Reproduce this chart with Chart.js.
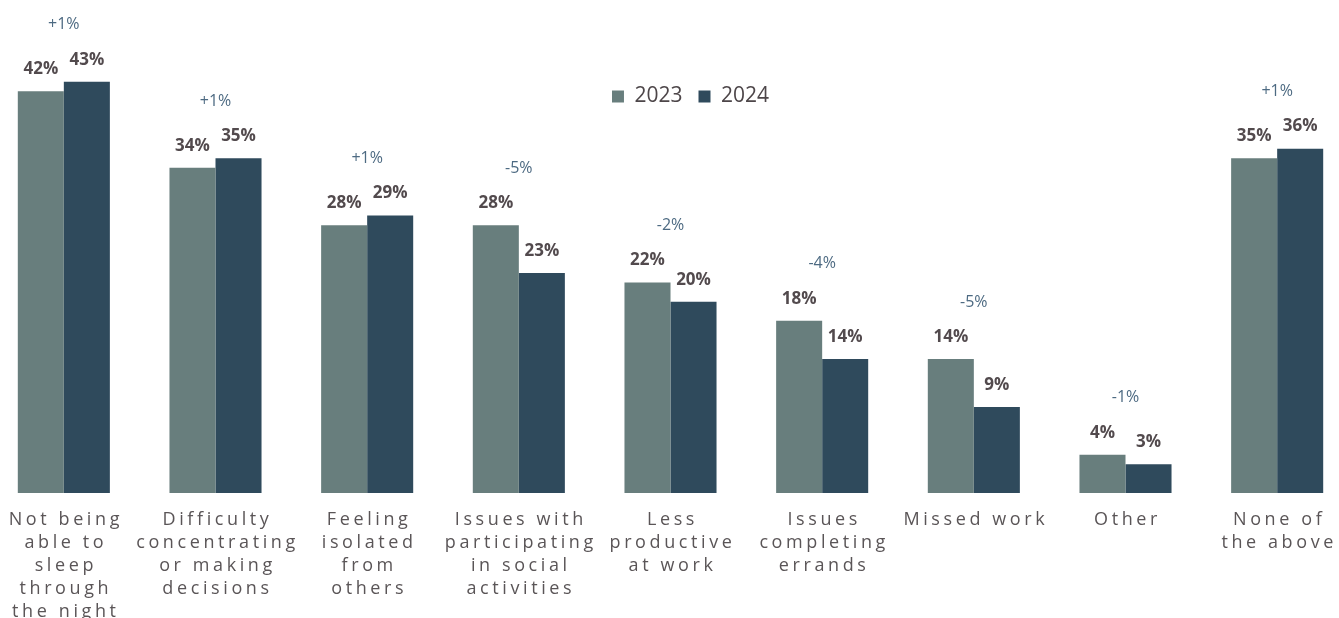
<!DOCTYPE html>
<html>
<head>
<meta charset="utf-8">
<script src="https://cdn.jsdelivr.net/npm/chart.js@4.4.1/dist/chart.umd.min.js"></script>
<style>
  html, body { margin: 0; padding: 0; background: #fff; overflow: hidden; }
  #wrap { position: absolute; left: -12px; top: 0; width: 1365px; height: 618px; }
</style>
</head>
<body>
<div id="wrap"><canvas id="chart"></canvas></div>
<script>
// Category labels, one array of lines per group
const categories = [
  ["Not being", "able to", "sleep", "through", "the night"],
  ["Difficulty", "concentrating", "or making", "decisions"],
  ["Feeling", "isolated", "from", "others"],
  ["Issues with", "participating", "in social", "activities"],
  ["Less", "productive", "at work"],
  ["Issues", "completing", "errands"],
  ["Missed work"],
  ["Other"],
  ["None of", "the above"]
];

// Share of respondents (%)
const values2023 = [42, 34, 28, 28, 22, 18, 14, 4, 35];
const values2024 = [43, 35, 29, 23, 20, 14, 9, 3, 36];

const color2023 = "#687e7d";
const color2024 = "#2f4a5c";

// Value labels over each bar, and the year-over-year change over each group
const labelsPlugin = {
  id: "barLabels",
  afterLayout(chart) {
    // move the legend down into the empty space between the bars
    chart.legend.left += 20;
    chart.legend.right += 20;
    chart.legend.top += 64;
    chart.legend.bottom += 64;
  },
  afterDatasetsDraw(chart) {
    const ctx = chart.ctx;
    const m0 = chart.getDatasetMeta(0);
    const m1 = chart.getDatasetMeta(1);
    ctx.save();
    ctx.letterSpacing = "0px";
    ctx.textAlign = "center";
    ctx.textBaseline = "middle";

    ctx.font = "bold 17px 'Open Sans'";
    ctx.fillStyle = "#524a4d";
    [m0, m1].forEach((meta, d) => {
      meta.data.forEach((bar, i) => {
        const v = chart.data.datasets[d].data[i];
        ctx.fillText(v + "%", bar.x, bar.y - 22);
      });
    });

    ctx.font = "16px 'Open Sans'";
    ctx.fillStyle = "#4d6a82";
    m0.data.forEach((bar, i) => {
      const diff = values2024[i] - values2023[i];
      const top = Math.min(bar.y, m1.data[i].y);
      const cx = (bar.x + m1.data[i].x) / 2;
      ctx.fillText((diff > 0 ? "+" : "") + diff + "%", cx, top - 57);
    });
    ctx.restore();
  },
  afterDraw(chart) {
    // spaced-out category names under the axis
    const ctx = chart.ctx;
    const xs = chart.scales.x;
    ctx.save();
    ctx.font = "18px 'Open Sans'";
    ctx.fillStyle = "#5a5557";
    ctx.textAlign = "center";
    ctx.textBaseline = "middle";
    ctx.letterSpacing = "3.6px";
    categories.forEach((lines, i) => {
      const x = xs.getPixelForValue(i) + 2;
      lines.forEach((line, j) => {
        ctx.fillText(line, x, chart.chartArea.bottom + 27 + j * 23);
      });
    });
    ctx.restore();
  }
};

new Chart(document.getElementById("chart"), {
  type: "bar",
  data: {
    labels: categories.map((c) => c.join(" ")),
    datasets: [
      {
        label: "2023",
        data: values2023,
        backgroundColor: color2023
      },
      {
        label: "2024",
        data: values2024,
        backgroundColor: color2024
      }
    ]
  },
  options: {
    responsive: true,
    maintainAspectRatio: false,
    animation: false,
    datasets: {
      bar: { categoryPercentage: 0.607, barPercentage: 1.0 }
    },
    layout: { padding: { top: 6, bottom: 125, left: 0, right: 0 } },
    scales: {
      x: {
        display: true,
        grid: { display: false, drawTicks: false },
        border: { display: false },
        ticks: { display: false }
      },
      y: {
        display: false,
        min: 0,
        max: 46
      }
    },
    plugins: {
      legend: {
        position: "top",
        align: "center",
        labels: {
          boxWidth: 12,
          boxHeight: 12,
          padding: 16,
          color: "#4d4649",
          font: { family: "'Open Sans'", size: 21 }
        }
      },
      tooltip: { enabled: false }
    }
  },
  plugins: [labelsPlugin]
});
</script>
</body>
</html>
